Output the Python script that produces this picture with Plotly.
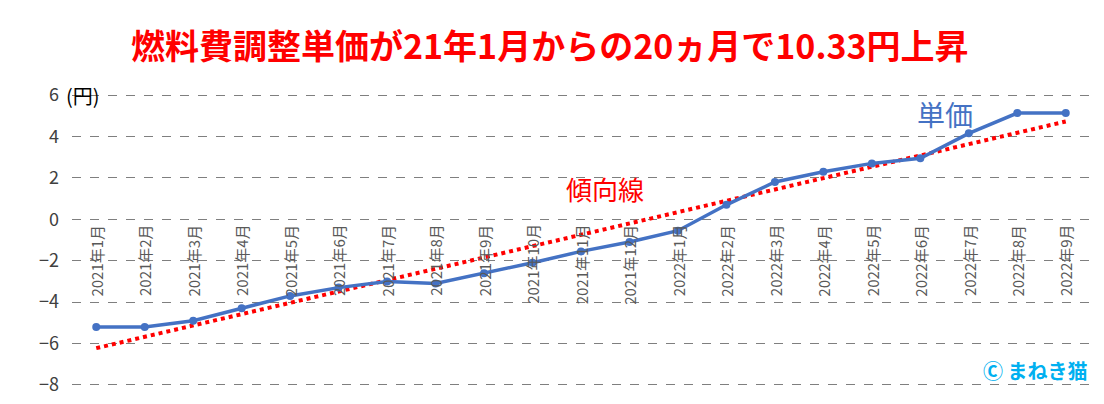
import numpy as np
import plotly.graph_objects as go

months = ["2021年1月","2021年2月","2021年3月","2021年4月","2021年5月","2021年6月","2021年7月",
          "2021年8月","2021年9月","2021年10月","2021年11月","2021年12月","2022年1月","2022年2月",
          "2022年3月","2022年4月","2022年5月","2022年6月","2022年7月","2022年8月","2022年9月"]
price = [-5.2,-5.2,-4.9,-4.3,-3.7,-3.3,-3.0,-3.1,-2.6,-2.1,-1.55,-1.1,-0.55,0.7,1.8,2.3,2.7,2.95,4.15,5.13,5.13]

idx = np.arange(len(months))
a, b = np.polyfit(idx, price, 1)
trend = a * idx + b

fig = go.Figure()
fig.add_trace(go.Scatter(x=idx, y=trend, mode="lines", line=dict(color="#ff0000", width=4, dash="dot")))
fig.add_trace(go.Scatter(x=idx, y=price, mode="lines+markers", line=dict(color="#4472c4", width=3.5),
                         marker=dict(size=8, color="#4472c4")))
for i, m in enumerate(months):
    fig.add_annotation(x=i, y=0, text=m, textangle=-90, yanchor="top", yshift=-3, showarrow=False,
                       font=dict(size=15, color="#595959"))
fig.add_annotation(xref="paper", yref="paper", x=0.47, y=1.0, yanchor="bottom", yshift=22, showarrow=False,
                   text="<b>燃料費調整単価が21年1月からの20ヵ月で10.33円上昇</b>", font=dict(size=34, color="#ff0000"))
fig.add_annotation(x=-0.5, y=6, xanchor="left", showarrow=False, text="(円)", xshift=-8,
                   font=dict(size=20, color="black"))
fig.add_annotation(x=17.5, y=5.1, showarrow=False, text="単価", font=dict(size=28, color="#4472c4"))
fig.add_annotation(x=10.5, y=1.5, showarrow=False, text="傾向線", font=dict(size=26, color="#ff0000"))
fig.add_annotation(xref="paper", yref="paper", x=1.0, y=0.0, xanchor="right", yanchor="bottom", showarrow=False,
                   text="<b>Ⓒ まねき猫</b>", font=dict(size=20, color="#00b0f0"))
fig.update_layout(width=1104, height=404, margin=dict(l=64, r=22, t=85, b=25), showlegend=False,
                  plot_bgcolor="white", paper_bgcolor="white", font=dict(family="Noto Sans CJK JP"))
fig.update_xaxes(range=[-0.5, 20.5], showticklabels=False, showgrid=False, zeroline=False)
fig.update_yaxes(range=[-8.1, 6.1], tickvals=[-8,-6,-4,-2,0,2,4,6], showgrid=True, gridcolor="#7f7f7f",
                 griddash="dash", gridwidth=1, zeroline=False, tickfont=dict(size=18, color="#404040"),
                 ticklabelstandoff=12)
fig.write_html("out.html")
